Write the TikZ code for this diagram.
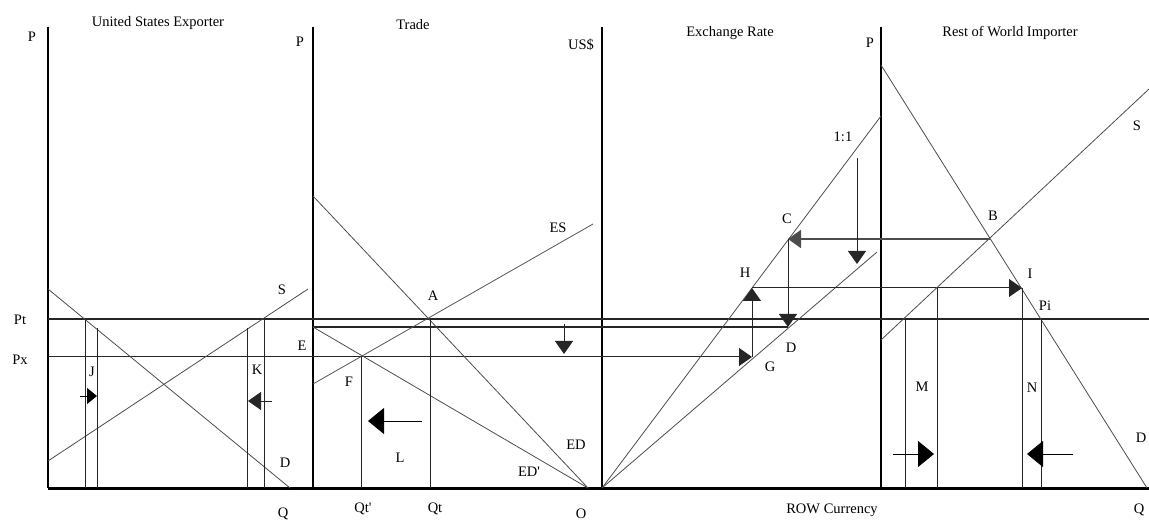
\documentclass[tikz,border=0pt]{standalone}
\usepackage{fontspec}
\setmainfont{Liberation Serif}
\usetikzlibrary{arrows.meta}

\begin{document}
\begin{tikzpicture}[
    x=1pt, y=-1pt,
    every node/.style={font=\fontsize{14.5}{16}\selectfont, inner sep=0pt},
    axis/.style={line width=2pt, black},
    base/.style={line width=3pt, black},
    curve/.style={line width=0.8pt, black!70},
    level/.style={line width=1.1pt, black!85},
    drop/.style={line width=1pt, black!85},
    arr/.style={-{Triangle[length=13pt, width=18pt]}, line width=1pt, black!85},
    smallarr/.style={-{Triangle[length=10pt, width=16pt]}, line width=1pt},
    bigarr/.style={-{Triangle[length=16pt, width=26pt]}, line width=1pt},
]
\useasboundingbox (0,0) rectangle (1149,521);

% key points
\coordinate (o1) at (48,488);
\coordinate (o2) at (313,488);
\coordinate (o3) at (602,488);
\coordinate (o4) at (881,488);
\coordinate (A) at (430,319);
\coordinate (B) at (990,239);
\coordinate (C) at (788,239);
\coordinate (D) at (788,327);
\coordinate (E) at (313,327);
\coordinate (F) at (361,357);
\coordinate (G) at (752,357);
\coordinate (H) at (752,288);
\coordinate (I) at (1022,288);
\coordinate (Pi) at (1041,319);

% axes
\draw[axis] (48,27) -- (o1);
\draw[axis] (313,27) -- (o2);
\draw[axis] (602,27) -- (o3);
\draw[axis] (881,27) -- (o4);
\draw[base] (o1) -- (1149,488);

% titles
\node (tus) at (158,23) {United States Exporter};
\node (ttr) at (413,25) {Trade};
\node (tex) at (730,33) {Exchange Rate};
\node (trw) at (1010,33) {Rest of World Importer};

% price levels
\draw[level] (48,319) -- (1149,319);
\draw[level, arr] (48,357) -- (G);
\draw[level] (E) -- (D);

% United States Exporter
\draw[curve] (48,461) -- (308,289);
\draw[curve] (48,289) -- (290,488);
\draw[drop] (85,319) -- (85,488);
\draw[drop] (97,328) -- (97,488);
\draw[drop] (247,328) -- (247,488);
\draw[drop] (264,319) -- (264,488);
\draw[smallarr] (80,396) -- (97,396);
\draw[arr] (272,401) -- (248,401);

% Trade
\draw[curve] (313,196) -- (588,488);
\draw[curve] (E) -- (588,488);
\draw[curve] (313,384) -- (593,224);
\draw[drop] (A) -- (430,488);
\draw[drop] (F) -- (361,488);
\draw[bigarr] (422,421) -- (368,421);
\draw[arr] (564,324) -- (564,354);

% Exchange Rate
\draw[curve] (o3) -- (881,116);
\draw[curve] (o3) -- (877,252);
\draw[arr, line width=2pt, black!70] (B) -- (C);
\draw[arr] (C) -- (D);
\draw[arr] (G) -- (H);
\draw[arr] (H) -- (I);
\draw[arr] (857,158) -- (857,264);

% Rest of World Importer
\draw[curve] (881,65) -- (1147,488);
\draw[curve] (881,340) -- (1149,89);
\draw[drop] (905,319) -- (905,488);
\draw[drop] (937,288) -- (937,488);
\draw[drop] (I) -- (1022,488);
\draw[drop] (Pi) -- (1041,488);
\draw[bigarr] (893,454) -- (934,454);
\draw[bigarr] (1073,454) -- (1027,454);

% labels
\node (p1) at (32,37) {P};
\node (p2) at (300,42) {P};
\node (p4) at (870,43) {P};
\node (usd) at (581,45) {US\$};
\node (lpt) at (20,320) {Pt};
\node (lpx) at (20,360) {Px};
\node (ls1) at (282,290) {S};
\node (ld1) at (285,463) {D};
\node (lj) at (92,372) {J};
\node (lk) at (257,370) {K};
\node (lq1) at (283,514) {Q};
\node (le) at (302,346) {E};
\node (la) at (433,296) {A};
\node (lf) at (349,382) {F};
\node (ll) at (400,458) {L};
\node (led) at (576,445) {ED};
\node (ledp) at (529,472) {ED\textquotesingle};
\node (les) at (558,228) {ES};
\node (lqtp) at (363,509) {Qt\textquotesingle};
\node (lqt) at (435,509) {Qt};
\node (lo) at (581,514) {O};
\node (lone) at (843,137) {1:1};
\node (lc) at (787,219) {C};
\node (lh) at (745,273) {H};
\node (ld) at (791,348) {D};
\node (lg) at (770,367) {G};
\node (lrow) at (832,510) {ROW Currency};
\node (lb) at (993,216) {B};
\node (ls4) at (1137,126) {S};
\node (li) at (1030,274) {I};
\node (lpi) at (1045,306) {Pi};
\node (lm) at (922,387) {M};
\node (ln) at (1032,388) {N};
\node (ld4) at (1141,438) {D};
\node (lq4) at (1139,510) {Q};

\end{tikzpicture}
\end{document}
